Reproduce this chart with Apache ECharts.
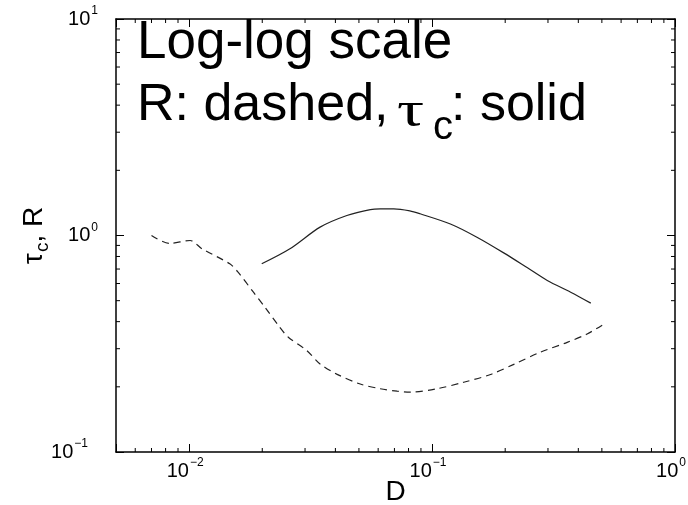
<!DOCTYPE html>
<html>
<head>
<meta charset="utf-8">
<style>
  html, body { margin: 0; padding: 0; background: #fff; }
  #chart { width: 688px; height: 505px; }
</style>
<script src="https://cdn.jsdelivr.net/npm/echarts@6/dist/echarts.min.js"></script>
</head>
<body>
<div id="chart"></div>
<script>
// R (dashed curve) versus D
const rD = [0.007, 0.0083, 0.0101, 0.0113, 0.0147, 0.0159, 0.0184, 0.0205, 0.0236, 0.0256,
            0.0305, 0.0346, 0.0405, 0.0506, 0.0612, 0.0718, 0.0811, 0.1048, 0.135, 0.174,
            0.217, 0.279, 0.36, 0.435, 0.51];
const rValues = [1.0, 0.92, 0.948, 0.868, 0.74, 0.677, 0.547, 0.467, 0.377, 0.339,
                 0.294, 0.255, 0.229, 0.206, 0.196, 0.191, 0.189, 0.196, 0.21, 0.228,
                 0.254, 0.289, 0.321, 0.351, 0.39];

// tau_c (solid curve) versus D
const tauD = [0.0199, 0.026, 0.0346, 0.0446, 0.0557, 0.0612, 0.0696, 0.081, 0.0893, 0.119,
              0.153, 0.198, 0.247, 0.298, 0.372, 0.45];
const tauValues = [0.74, 0.868, 1.093, 1.237, 1.318, 1.328, 1.328, 1.30, 1.26, 1.13,
                   0.982, 0.829, 0.709, 0.62, 0.547, 0.487];

// axis ranges and minor tick positions (log decades)
const xRange = [0.005, 1];
const yRange = [0.1, 10];
const xMinorTicks = [0.006, 0.007, 0.008, 0.009,
                     0.02, 0.03, 0.04, 0.05, 0.06, 0.07, 0.08, 0.09,
                     0.2, 0.3, 0.4, 0.5, 0.6, 0.7, 0.8, 0.9];
const yMinorTicks = [0.2, 0.3, 0.4, 0.5, 0.6, 0.7, 0.8, 0.9,
                     2, 3, 4, 5, 6, 7, 8, 9];

const FONT = '"Liberation Sans", Arial, sans-serif';

function zip(a, b) { return a.map((v, i) => [v, b[i]]); }

function powLabel(v, negStyle) {
  const lg = Math.log10(v);
  const e = Math.round(lg);
  if (Math.abs(lg - e) > 1e-6) return '';
  const exp = e < 0 ? '\u2212' + (-e) : String(e);
  return '{b|10}{' + (e < 0 && negStyle ? negStyle : 's') + '|' + exp + '}';
}

const labelRich = {
  b: { fontSize: 20, fontFamily: FONT, color: '#000' },
  s: { fontSize: 12, fontFamily: FONT, color: '#000', padding: [0, 0, 16, 1] },
  sn: { fontSize: 12, fontFamily: FONT, color: '#000', padding: [0, 10, 16, 1] }
};

const chart = echarts.init(document.getElementById('chart'), null, { renderer: 'canvas' });

const axisLine = { show: true, lineStyle: { color: '#000', width: 1.5 } };
const majorTick = { show: true, inside: true, length: 8, lineStyle: { color: '#000', width: 1 } };

const option = {
  animation: false,
  backgroundColor: '#fff',
  grid: { left: 116, right: 13, top: 19, bottom: 53, containLabel: false, outerBoundsMode: 'none' },
  xAxis: [
    {
      type: 'log', logBase: 10, min: xRange[0], max: xRange[1], position: 'bottom',
      axisLine: axisLine, axisTick: majorTick, splitLine: { show: false },
      axisLabel: {
        margin: 5, padding: [0, 8, 0, 0],
        formatter: v => powLabel(v), rich: labelRich
      },
      name: 'D', nameLocation: 'middle', nameGap: 26, nameMoveOverlap: false,
      nameTextStyle: { fontSize: 28, fontFamily: FONT, color: '#000', verticalAlign: 'top' }
    },
    {
      type: 'log', logBase: 10, min: xRange[0], max: xRange[1], position: 'top',
      axisLine: axisLine, axisTick: majorTick, axisLabel: { show: false }, splitLine: { show: false }
    }
  ],
  yAxis: [
    {
      type: 'log', logBase: 10, min: yRange[0], max: yRange[1], position: 'left',
      axisLine: axisLine, axisTick: majorTick, splitLine: { show: false },
      axisLabel: {
        margin: 18,
        formatter: v => powLabel(v, 'sn'), rich: labelRich
      },
      name: '{t|\u03c4}{c|c}{t|, R}', nameLocation: 'middle', nameGap: 64, nameRotate: 90,
      nameMoveOverlap: false,
      nameTextStyle: {
        color: '#000',
        rich: {
          t: { fontSize: 28, fontFamily: FONT, color: '#000' },
          c: { fontSize: 19, fontFamily: FONT, color: '#000', padding: [16, 0, 0, 1] }
        }
      }
    },
    {
      type: 'log', logBase: 10, min: yRange[0], max: yRange[1], position: 'right',
      axisLine: axisLine, axisTick: majorTick, axisLabel: { show: false }, splitLine: { show: false }
    }
  ],
  series: [
    {
      name: 'R', type: 'line', xAxisIndex: 0, yAxisIndex: 0,
      data: zip(rD, rValues), showSymbol: false, smooth: 0.3, silent: true,
      lineStyle: { color: '#222', width: 1.2, type: [7, 5] }
    },
    {
      name: 'tau_c', type: 'line', xAxisIndex: 0, yAxisIndex: 0,
      data: zip(tauD, tauValues), showSymbol: false, smooth: 0.3, silent: true,
      lineStyle: { color: '#222', width: 1.2, type: 'solid' }
    },
    {
      // minor ticks on bottom and top edges
      type: 'custom', xAxisIndex: 0, yAxisIndex: 0, silent: true, clip: false,
      data: xMinorTicks.map(v => [v, 1]),
      renderItem: (params, api) => {
        const cs = params.coordSys;
        const x = api.coord([api.value(0), 1])[0];
        const st = { stroke: '#000', lineWidth: 1 };
        return {
          type: 'group', children: [
            { type: 'line', shape: { x1: x, y1: cs.y + cs.height, x2: x, y2: cs.y + cs.height - 4 }, style: st },
            { type: 'line', shape: { x1: x, y1: cs.y, x2: x, y2: cs.y + 4 }, style: st }
          ]
        };
      }
    },
    {
      // minor ticks on left and right edges
      type: 'custom', xAxisIndex: 0, yAxisIndex: 0, silent: true, clip: false,
      data: yMinorTicks.map(v => [0.01, v]),
      renderItem: (params, api) => {
        const cs = params.coordSys;
        const y = api.coord([0.01, api.value(1)])[1];
        const st = { stroke: '#000', lineWidth: 1 };
        return {
          type: 'group', children: [
            { type: 'line', shape: { x1: cs.x, y1: y, x2: cs.x + 4, y2: y }, style: st },
            { type: 'line', shape: { x1: cs.x + cs.width, y1: y, x2: cs.x + cs.width - 4, y2: y }, style: st }
          ]
        };
      }
    }
  ],
  graphic: [
    { type: 'text', left: 137, top: 17, silent: true,
      style: { text: 'Log-log scale', fontSize: 53, fontFamily: FONT, fill: '#000' } },
    { type: 'text', left: 137, top: 80, silent: true,
      style: { text: 'R: dashed,', fontSize: 52, fontFamily: FONT, fill: '#000' } },
    { type: 'text', x: 397, y: 88, scaleX: 1.35, silent: true,
      style: { text: '\u03c4', x: 0, y: 0, fontSize: 50, fontFamily: '"Liberation Serif", "Times New Roman", serif', fill: '#000', verticalAlign: 'top' } },
    { type: 'text', left: 433, top: 108, silent: true,
      style: { text: 'c', fontSize: 40, fontFamily: FONT, fill: '#000' } },
    { type: 'text', left: 451, top: 80, silent: true,
      style: { text: ': solid', fontSize: 52, fontFamily: FONT, fill: '#000' } }
  ]
};

chart.setOption(option);
</script>
</body>
</html>
